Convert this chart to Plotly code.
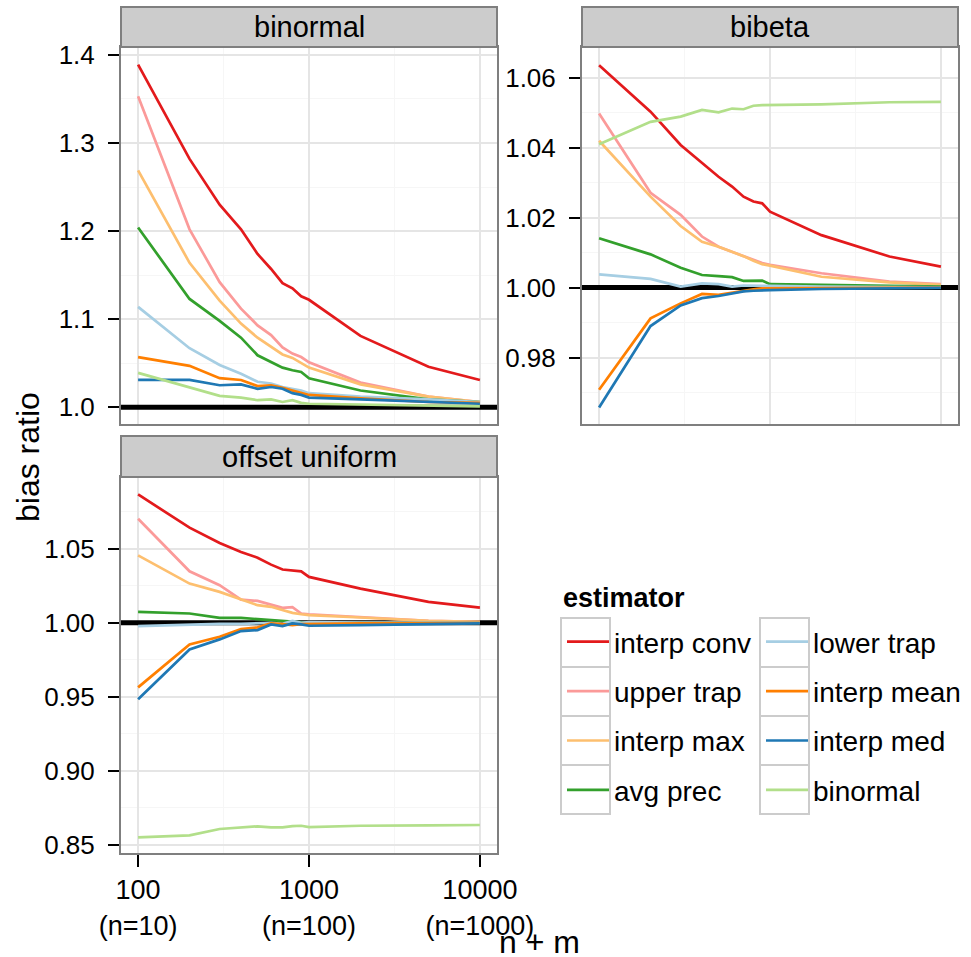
import plotly.graph_objects as go

# ---------------- data ----------------
N_PLUS_M = [100, 200, 300, 400, 500, 600, 700, 800, 900, 1000, 2000, 5000, 10000]
X_TICK_VALUES = [100, 1000, 10000]
X_TICK_LABELS = ["100<br>(n=10)", "1000<br>(n=100)", "10000<br>(n=1000)"]
X_LOG_RANGE = [1.9, 4.1]

PANELS = ["binormal", "bibeta", "offset uniform"]
ESTIMATORS = ["interp conv", "upper trap", "interp max", "avg prec",
              "lower trap", "interp mean", "interp med", "binormal"]
ESTIMATOR_COLORS = ["#E31A1C", "#FB9A99", "#FDBF6F", "#33A02C",
                    "#A6CEE3", "#FF7F00", "#1F78B4", "#B2DF8A"]

# panel: binormal
BINORMAL_INTERP_CONV = [1.389, 1.282, 1.230, 1.202, 1.174, 1.157, 1.141, 1.135, 1.126, 1.122, 1.081, 1.046, 1.031]
BINORMAL_UPPER_TRAP = [1.353, 1.202, 1.142, 1.112, 1.093, 1.082, 1.068, 1.061, 1.057, 1.051, 1.028, 1.012, 1.006]
BINORMAL_INTERP_MAX = [1.269, 1.164, 1.121, 1.095, 1.079, 1.069, 1.060, 1.056, 1.050, 1.045, 1.026, 1.012, 1.006]
BINORMAL_AVG_PREC = [1.204, 1.123, 1.098, 1.079, 1.059, 1.051, 1.045, 1.042, 1.040, 1.033, 1.019, 1.009, 1.006]
BINORMAL_LOWER_TRAP = [1.114, 1.067, 1.048, 1.038, 1.029, 1.027, 1.023, 1.021, 1.019, 1.016, 1.012, 1.009, 1.006]
BINORMAL_INTERP_MEAN = [1.057, 1.047, 1.033, 1.031, 1.024, 1.025, 1.022, 1.019, 1.016, 1.014, 1.010, 1.006, 1.005]
BINORMAL_INTERP_MED = [1.031, 1.031, 1.025, 1.026, 1.021, 1.023, 1.021, 1.016, 1.014, 1.011, 1.009, 1.006, 1.004]
BINORMAL_BINORMAL = [1.039, 1.023, 1.013, 1.011, 1.008, 1.009, 1.006, 1.008, 1.005, 1.004, 1.003, 1.002, 1.001]

# panel: bibeta
BIBETA_INTERP_CONV = [1.0636, 1.0503, 1.0408, 1.0357, 1.0317, 1.0289, 1.0260, 1.0246, 1.0241, 1.0217, 1.0150, 1.0089, 1.0060]
BIBETA_UPPER_TRAP = [1.0498, 1.0271, 1.0208, 1.0146, 1.0117, 1.0103, 1.0090, 1.0079, 1.0070, 1.0065, 1.0041, 1.0017, 1.0010]
BIBETA_INTERP_MAX = [1.0420, 1.0260, 1.0176, 1.0131, 1.0117, 1.0103, 1.0090, 1.0077, 1.0067, 1.0063, 1.0031, 1.0015, 1.0008]
BIBETA_AVG_PREC = [1.0141, 1.0095, 1.0057, 1.0036, 1.0033, 1.0030, 1.0019, 1.0020, 1.0020, 1.0010, 1.0008, 1.0005, 1.0003]
BIBETA_LOWER_TRAP = [1.0038, 1.0025, 1.0003, 1.0012, 1.0010, 1.0003, 1.0006, 1.0006, 1.0006, 1.0005, 1.0003, 1.0002, 1.0001]
BIBETA_INTERP_MEAN = [0.9708, 0.9912, 0.9955, 0.9982, 0.9979, 0.9986, 0.9991, 0.9995, 0.9998, 0.9998, 0.9999, 1.0000, 1.0000]
BIBETA_INTERP_MED = [0.9657, 0.9890, 0.9949, 0.9970, 0.9976, 0.9984, 0.9989, 0.9991, 0.9993, 0.9993, 0.9996, 0.9998, 0.9999]
BIBETA_BINORMAL = [1.0410, 1.0474, 1.0489, 1.0508, 1.0501, 1.0512, 1.0510, 1.0520, 1.0522, 1.0522, 1.0524, 1.0530, 1.0531]

# panel: offset uniform
OFFSET_INTERP_CONV = [1.0867, 1.0643, 1.0539, 1.0479, 1.0440, 1.0393, 1.0360, 1.0355, 1.0348, 1.0310, 1.0231, 1.0142, 1.0103]
OFFSET_UPPER_TRAP = [1.0703, 1.0348, 1.0254, 1.0157, 1.0148, 1.0124, 1.0101, 1.0106, 1.0063, 1.0058, 1.0040, 1.0013, 1.0007]
OFFSET_INTERP_MAX = [1.0456, 1.0265, 1.0209, 1.0157, 1.0119, 1.0108, 1.0085, 1.0067, 1.0058, 1.0052, 1.0036, 1.0013, 1.0007]
OFFSET_AVG_PREC = [1.0074, 1.0063, 1.0034, 1.0034, 1.0025, 1.0018, 1.0011, 1.0007, 1.0005, 1.0000, 1.0000, 1.0000, 1.0000]
OFFSET_LOWER_TRAP = [0.9978, 0.9989, 0.9993, 0.9993, 0.9996, 1.0000, 0.9993, 1.0013, 1.0000, 1.0004, 1.0002, 1.0002, 1.0002]
OFFSET_INTERP_MEAN = [0.9564, 0.9854, 0.9906, 0.9957, 0.9969, 0.9996, 0.9991, 0.9984, 0.9991, 0.9991, 0.9996, 0.9998, 1.0000]
OFFSET_INTERP_MED = [0.9483, 0.9820, 0.9888, 0.9944, 0.9951, 0.9989, 0.9978, 0.9996, 0.9989, 0.9980, 0.9984, 0.9991, 0.9996]
OFFSET_BINORMAL = [0.8550, 0.8564, 0.8607, 0.8618, 0.8625, 0.8618, 0.8618, 0.8627, 0.8629, 0.8620, 0.8629, 0.8631, 0.8634]

REFERENCE_RATIO = 1.0

Y_TICKS_BINORMAL = [1.0, 1.1, 1.2, 1.3, 1.4]
Y_TICKS_BIBETA = [0.98, 1.00, 1.02, 1.04, 1.06]
Y_TICKS_OFFSET = [0.85, 0.90, 0.95, 1.00, 1.05]

PANEL_DATA = {
    "binormal": [BINORMAL_INTERP_CONV, BINORMAL_UPPER_TRAP, BINORMAL_INTERP_MAX, BINORMAL_AVG_PREC,
                 BINORMAL_LOWER_TRAP, BINORMAL_INTERP_MEAN, BINORMAL_INTERP_MED, BINORMAL_BINORMAL],
    "bibeta": [BIBETA_INTERP_CONV, BIBETA_UPPER_TRAP, BIBETA_INTERP_MAX, BIBETA_AVG_PREC,
               BIBETA_LOWER_TRAP, BIBETA_INTERP_MEAN, BIBETA_INTERP_MED, BIBETA_BINORMAL],
    "offset uniform": [OFFSET_INTERP_CONV, OFFSET_UPPER_TRAP, OFFSET_INTERP_MAX, OFFSET_AVG_PREC,
                       OFFSET_LOWER_TRAP, OFFSET_INTERP_MEAN, OFFSET_INTERP_MED, OFFSET_BINORMAL],
}

# ---------------- layout geometry ----------------
W, H = 971, 957
FONT = "Liberation Sans, Arial, Helvetica, sans-serif"


def fx(p):
    return p / W


def fy(p):
    return 1 - p / H


# (left, right, top, bottom, strip_top) in pixels
BOXES = {
    "binormal": (121, 497, 47, 424, 7),
    "bibeta": (582, 958, 47, 424, 7),
    "offset uniform": (121, 497, 477, 853, 436),
}
AXIS_IDS = {"binormal": ("x", "y"), "bibeta": ("x2", "y2"), "offset uniform": ("x3", "y3")}
Y_SETUP = {
    "binormal": (Y_TICKS_BINORMAL, "{:.1f}", [0.981, 1.409], [1.05, 1.15, 1.25, 1.35]),
    "bibeta": (Y_TICKS_BIBETA, "{:.2f}", [0.9610, 1.0688], [0.97, 0.99, 1.01, 1.03, 1.05]),
    "offset uniform": (Y_TICKS_OFFSET, "{:.2f}", [0.8445, 1.0985], [0.875, 0.925, 0.975, 1.025, 1.075]),
}

fig = go.Figure()

LEGEND_OF = {name: ("legend" if i < 4 else "legend2") for i, name in enumerate(ESTIMATORS)}
X_SPAN = [10 ** X_LOG_RANGE[0], 10 ** X_LOG_RANGE[1]]

for panel in PANELS:
    xa, ya = AXIS_IDS[panel]
    # reference line at ratio 1 (spans the whole panel, beneath the estimator lines)
    fig.add_trace(go.Scatter(
        x=X_SPAN, y=[REFERENCE_RATIO, REFERENCE_RATIO], mode="lines",
        line=dict(color="black", width=5), xaxis=xa, yaxis=ya,
        showlegend=False, hoverinfo="skip", cliponaxis=True,
    ))
    for i, est in enumerate(ESTIMATORS):
        fig.add_trace(go.Scatter(
            x=N_PLUS_M, y=PANEL_DATA[panel][i], mode="lines", name=est,
            line=dict(color=ESTIMATOR_COLORS[i], width=2.7),
            xaxis=xa, yaxis=ya, legendgroup=est, legend=LEGEND_OF[est],
            showlegend=(panel == "binormal"),
        ))

GRID = "#E5E5E5"
MINOR_GRID = "#F6F6F6"
BORDER = "#7F7F7F"

layout = dict(
    width=W, height=H, template="none",
    margin=dict(l=0, r=0, t=0, b=0, pad=0),
    paper_bgcolor="white", plot_bgcolor="white",
    font=dict(family=FONT, color="black", size=26),
    showlegend=True,
)

shapes = []
annotations = []
for panel in PANELS:
    xa, ya = AXIS_IDS[panel]
    l, r, t, b, st = BOXES[panel]
    xkey = "xaxis" + xa[1:]
    ykey = "yaxis" + ya[1:]
    is_bottom = panel == "offset uniform"
    layout[xkey] = dict(
        type="log", range=X_LOG_RANGE, domain=[fx(l), fx(r)], anchor=ya,
        tickmode="array", tickvals=X_TICK_VALUES, ticktext=X_TICK_LABELS,
        showticklabels=is_bottom, ticks="outside" if is_bottom else "",
        ticklen=12, tickwidth=2, tickcolor="black",
        tickfont=dict(size=27, family=FONT, color="black"),
        showgrid=True, gridcolor=GRID, gridwidth=1.5,
        minor=dict(tickmode="array", tickvals=[10 ** 2.5, 10 ** 3.5], showgrid=True,
                   gridcolor=MINOR_GRID, gridwidth=1, ticks=""),
        showline=True, mirror=True, linecolor=BORDER, linewidth=2,
        zeroline=False, automargin=False, fixedrange=True,
    )
    ticks, fmt, yr, minor_vals = Y_SETUP[panel]
    layout[ykey] = dict(
        range=yr, domain=[fy(b), fy(t)], anchor=xa,
        tickmode="array", tickvals=ticks, ticktext=[fmt.format(v) for v in ticks],
        ticks="outside", ticklen=11, tickwidth=2, tickcolor="black",
        ticklabelstandoff=8,
        tickfont=dict(size=26, family=FONT, color="black"),
        showgrid=True, gridcolor=GRID, gridwidth=1.5,
        minor=dict(tickmode="array", tickvals=minor_vals, showgrid=True,
                   gridcolor=MINOR_GRID, gridwidth=1, ticks=""),
        showline=True, mirror=True, linecolor=BORDER, linewidth=2,
        zeroline=False, automargin=False, fixedrange=True,
    )
    # facet strip
    shapes.append(dict(type="rect", xref="paper", yref="paper",
                       x0=fx(l), x1=fx(r), y0=fy(t), y1=fy(st),
                       fillcolor="#CCCCCC", line=dict(color=BORDER, width=2), layer="above"))
    annotations.append(dict(text=panel, xref="paper", yref="paper",
                            x=fx((l + r) / 2), y=fy((t + st) / 2), xanchor="center", yanchor="middle",
                            showarrow=False, font=dict(size=29, family=FONT, color="black")))

# axis titles
annotations.append(dict(text="n + m", xref="paper", yref="paper", x=fx(539.5), y=fy(942),
                        xanchor="center", yanchor="middle", showarrow=False,
                        font=dict(size=32, family=FONT, color="black")))
annotations.append(dict(text="bias ratio", xref="paper", yref="paper", x=fx(28), y=fy(457),
                        xanchor="center", yanchor="middle", textangle=-90, showarrow=False,
                        font=dict(size=32, family=FONT, color="black")))
# legend title
annotations.append(dict(text="<b>estimator</b>", xref="paper", yref="paper", x=fx(561), y=fy(598),
                        xanchor="left", yanchor="middle", showarrow=False,
                        font=dict(size=27, family=FONT, color="black")))

# legend key boxes
KEY_TOPS = [618, 667, 716, 765]
for col_left in (561, 760):
    for top in KEY_TOPS:
        shapes.append(dict(type="rect", xref="paper", yref="paper",
                           x0=fx(col_left), x1=fx(col_left + 49), y0=fy(top + 49), y1=fy(top),
                           fillcolor="white", line=dict(color="#CCCCCC", width=2), layer="above"))

legend_common = dict(
    xanchor="left", yanchor="top", bgcolor="rgba(0,0,0,0)", borderwidth=0,
    font=dict(size=28, family=FONT, color="black"), itemwidth=42,
    traceorder="grouped", tracegroupgap=10, orientation="v",
    itemclick=False, itemdoubleclick=False,
)
layout["legend"] = dict(legend_common, x=fx(562), y=fy(617))
layout["legend2"] = dict(legend_common, x=fx(761), y=fy(617))
layout["shapes"] = shapes
layout["annotations"] = annotations

fig.update_layout(**layout)
fig.write_html("out.html")
